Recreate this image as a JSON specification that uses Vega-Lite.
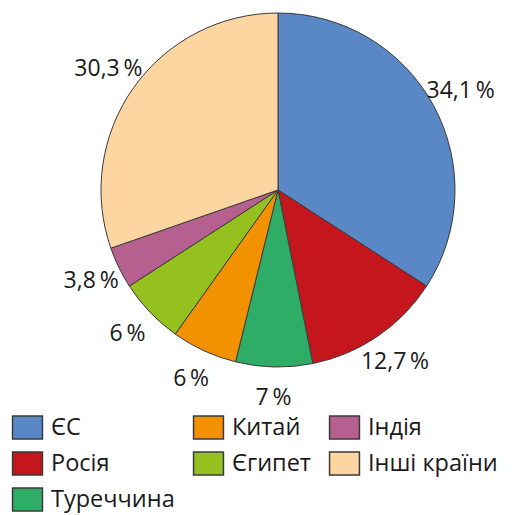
{
  "$schema": "https://vega.github.io/schema/vega-lite/v6.json",
  "autosize": {"type": "none"},
  "width": 356,
  "height": 356,
  "padding": {"left": 100, "top": 12, "right": 62, "bottom": 147},
  "background": "white",
  "config": {"view": {"stroke": null}, "font": "Open Sans"},
  "data": {
    "values": [
      {"country": "ЄС", "share": 34.1, "rank": 1, "label": "34,1\u2009%"},
      {"country": "Росія", "share": 12.7, "rank": 2, "label": "12,7\u2009%"},
      {"country": "Туреччина", "share": 7, "rank": 3, "label": "7\u2009%"},
      {"country": "Китай", "share": 6, "rank": 4, "label": "6\u2009%"},
      {"country": "Єгипет", "share": 6, "rank": 5, "label": "6\u2009%"},
      {"country": "Індія", "share": 3.8, "rank": 6, "label": "3,8\u2009%"},
      {"country": "Інші країни", "share": 30.3, "rank": 7, "label": "30,3\u2009%"}
    ]
  },
  "encoding": {
    "theta": {"field": "share", "type": "quantitative", "stack": true},
    "order": {"field": "rank", "type": "quantitative"}
  },
  "layer": [
    {
      "mark": {"type": "arc", "outerRadius": 177, "stroke": "#3a3a3a", "strokeWidth": 1},
      "encoding": {
        "color": {
          "field": "country",
          "type": "nominal",
          "scale": {
            "domain": ["ЄС", "Китай", "Індія", "Росія", "Єгипет", "Інші країни", "Туреччина"],
            "range": ["#5a87c6", "#f39200", "#b5608f", "#c4161c", "#95c11f", "#fcd5a0", "#2fac66"]
          },
          "legend": {
            "title": null,
            "orient": "none",
            "legendX": -85,
            "legendY": 403,
            "columns": 3,
            "direction": "horizontal",
            "columnPadding": 15,
            "rowPadding": 7,
            "labelFont": "Open Sans",
            "labelFontSize": 23.5,
            "labelColor": "#1a1a1a",
            "labelOffset": 11,
            "labelLimit": 300,
            "symbolType": "M-1.3,-1L1.3,-1L1.3,1L-1.3,1Z",
            "symbolSize": 529,
            "symbolStrokeColor": "#3a3a3a",
            "symbolStrokeWidth": 1.5,
            "symbolOpacity": 1
          }
        }
      }
    },
    {
      "mark": {"type": "text", "radius": 208, "font": "Open Sans", "fontSize": 23, "fill": "#1a1a1a", "align": "center", "baseline": "middle"},
      "encoding": {
        "text": {"field": "label", "type": "nominal"}
      }
    }
  ]
}
